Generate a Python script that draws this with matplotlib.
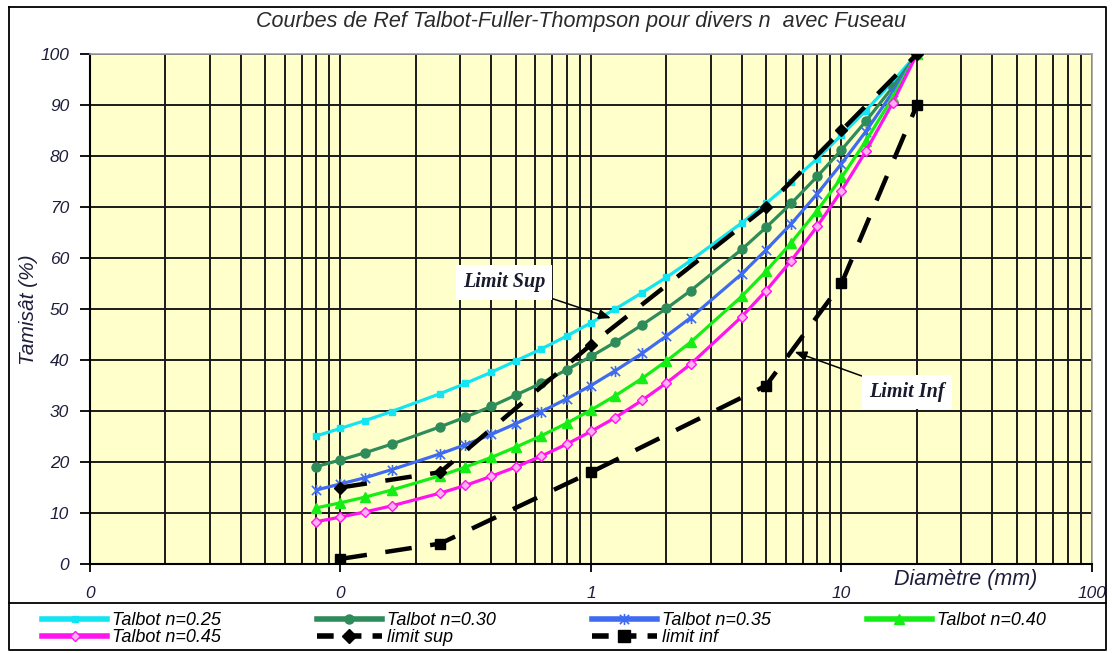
import matplotlib
matplotlib.use("Agg")
import matplotlib.pyplot as plt
import matplotlib.ticker as mticker
from matplotlib.lines import Line2D
from matplotlib.path import Path

# Sieve openings (mm) and passing percentages of the reference curves
diametres = [0.08, 0.1, 0.125, 0.16, 0.25, 0.315, 0.4, 0.5, 0.63, 0.8, 1,
             1.25, 1.6, 2, 2.5, 4, 5, 6.3, 8, 10, 12.5, 16, 20]

talbot_025 = [25.1, 26.6, 28.1, 29.9, 33.4, 35.4, 37.6, 39.8, 42.1, 44.7, 47.3,
              50.0, 53.2, 56.2, 59.5, 66.9, 70.7, 74.9, 79.5, 84.1, 88.9, 94.6, 100]
talbot_030 = [19.1, 20.4, 21.8, 23.5, 26.9, 28.8, 30.9, 33.1, 35.4, 38.1, 40.7,
              43.5, 46.9, 50.1, 53.6, 61.7, 66.0, 70.7, 76.0, 81.2, 86.8, 93.5, 100]
talbot_035 = [14.5, 15.7, 16.9, 18.5, 21.6, 23.4, 25.4, 27.5, 29.8, 32.4, 35.0,
              37.9, 41.3, 44.7, 48.3, 56.9, 61.6, 66.7, 72.6, 78.5, 84.8, 92.5, 100]
talbot_040 = [11.0, 12.0, 13.1, 14.5, 17.3, 19.0, 20.9, 22.9, 25.1, 27.6, 30.2,
              33.0, 36.4, 39.8, 43.5, 52.5, 57.4, 63.0, 69.3, 75.8, 82.9, 91.5, 100]
talbot_045 = [8.3, 9.2, 10.2, 11.4, 13.9, 15.4, 17.2, 19.0, 21.1, 23.5, 26.0,
              28.7, 32.1, 35.5, 39.2, 48.5, 53.6, 59.5, 66.2, 73.2, 80.9, 90.4, 100]

# Grading envelope (fuseau)
fuseau_d = [0.1, 0.25, 1, 5, 10, 20]
limit_sup = [15, 18, 43, 70, 85, 100]
limit_inf = [1, 4, 18, 35, 55, 90]

x_ticks = [0.01, 0.1, 1, 10, 100]
y_ticks = [0, 10, 20, 30, 40, 50, 60, 70, 80, 90, 100]

plt.rcParams["font.family"] = ["Liberation Sans", "DejaVu Sans"]
plt.rcParams["font.style"] = "italic"

W, H = 1112, 653
fig = plt.figure(figsize=(W / 100, H / 100), dpi=100)
fig.patch.set_facecolor("white")

def fx(px):
    return px / W

def fy(py):
    return 1 - py / H

ax = fig.add_axes([fx(90), fy(564), fx(1092) - fx(90), fy(54) - fy(564)])
ax.set_facecolor("#FFFFCC")
ax.set_xscale("log")
ax.set_xlim(0.01, 100)
ax.set_ylim(0, 100)

ax.xaxis.set_major_locator(mticker.FixedLocator(x_ticks))
ax.xaxis.set_major_formatter(mticker.FuncFormatter(lambda v, p: f"{v:.0f}"))
ax.xaxis.set_minor_locator(mticker.LogLocator(base=10, subs=range(2, 10)))
ax.xaxis.set_minor_formatter(mticker.NullFormatter())
ax.yaxis.set_major_locator(mticker.FixedLocator(y_ticks))

ax.set_axisbelow(True)
ax.grid(True, which="both", axis="x", color="#1a1a1a", lw=1.4)
ax.grid(True, which="major", axis="y", color="#1a1a1a", lw=1.4)

ax.tick_params(axis="x", which="major", direction="out", length=6, width=1.3,
               pad=10, labelsize=12.5, labelcolor="#1e1e3c")
ax.tick_params(axis="x", which="minor", length=0)
ax.tick_params(axis="y", which="major", direction="out", length=7, width=1.3,
               pad=8, labelsize=12.5, labelcolor="#1e1e3c")

for side in ("top", "right"):
    ax.spines[side].set_color("#a0a0a0")
    ax.spines[side].set_linewidth(1.2)
for side in ("left", "bottom"):
    ax.spines[side].set_color("black")
    ax.spines[side].set_linewidth(1.5)

# Excel-like "star" marker: an x with a vertical bar
star_path = Path(
    [(-1, -1), (1, 1), (-1, 1), (1, -1), (0, -1.2), (0, 1.2)],
    [Path.MOVETO, Path.LINETO, Path.MOVETO, Path.LINETO, Path.MOVETO, Path.LINETO],
)

styles = [
    (talbot_025, "Talbot n=0.25", dict(color="#12E4F2", marker="s", ms=4.5)),
    (talbot_030, "Talbot n=0.30", dict(color="#2E8B5A", marker="o", ms=6.5)),
    (talbot_035, "Talbot n=0.35", dict(color="#3F6BF0", marker=star_path, ms=8, mew=1.2)),
    (talbot_040, "Talbot n=0.40", dict(color="#14EE14", marker="^", ms=7)),
    (talbot_045, "Talbot n=0.45", dict(color="#FF14F0", marker="D", ms=5,
                                       mfc="#FFB0F0", mew=1.0)),
]

handles = {}
for values, label, st in styles:
    ax.plot(diametres, values, lw=2.3, zorder=3, **st)
    handles[label] = Line2D([], [], lw=4, **st)

dash_kw = dict(color="black", lw=3.2, dashes=(6, 4.2), zorder=4)
ax.plot(fuseau_d, limit_sup, marker="D", ms=6.5, **dash_kw)
ax.plot(fuseau_d, limit_inf, marker="s", ms=7.5, **dash_kw)
handles["limit sup"] = Line2D([], [], color="black", lw=4, dashes=(3, 2),
                              marker="D", ms=7)
handles["limit inf"] = Line2D([], [], color="black", lw=4, dashes=(3, 2),
                              marker="s", ms=8)

box = dict(boxstyle="square,pad=0.35", fc="white", ec="none")
serif = dict(family=["Liberation Serif", "DejaVu Serif"], weight="bold",
             style="italic", size=14.5, color="#1a1a2e")
ax.annotate("Limit Sup", xy=(1.2, 48.2), xytext=(0.45, 55.2),
            ha="center", va="center", bbox=box, zorder=6,
            arrowprops=dict(arrowstyle="-|>,head_length=0.5,head_width=0.2",
                            color="black", lw=1.1, shrinkA=0, shrinkB=0),
            **serif)
ax.annotate("Limit Inf", xy=(6.5, 41.6), xytext=(18.2, 33.7),
            ha="center", va="center", bbox=box, zorder=6,
            arrowprops=dict(arrowstyle="-|>,head_length=0.5,head_width=0.2",
                            color="black", lw=1.1, shrinkA=0, shrinkB=0),
            **serif)

fig.text(fx(581), fy(22), "Courbes de Ref Talbot-Fuller-Thompson pour divers n  avec Fuseau",
         ha="center", va="center", fontsize=15.5, color="#2a2a2a")
fig.text(fx(966), fy(580), "Diamètre (mm)", ha="center", va="center",
         fontsize=15.5, color="#1e1e3c")
fig.text(fx(28), fy(310), "Tamisât (%)", ha="center", va="center",
         rotation=90, fontsize=15, color="#1e1e3c")

# Outer frame and the separator above the legend
frame_kw = dict(color="black", lw=1.3, transform=fig.transFigure)
fig.add_artist(Line2D([fx(9), fx(1106), fx(1106), fx(9), fx(9)],
                      [fy(7), fy(7), fy(650), fy(650), fy(7)], **frame_kw))
fig.add_artist(Line2D([fx(9), fx(1106)], [fy(603), fy(603)], **frame_kw))

order = ["Talbot n=0.25", "Talbot n=0.45", "Talbot n=0.30", "limit sup",
         "Talbot n=0.35", "limit inf", "Talbot n=0.40"]
fig.legend([handles[k] for k in order], order, ncol=4, frameon=False,
           loc="center left", bbox_to_anchor=(fx(42), fy(629)),
           fontsize=13, handlelength=3.6, handletextpad=0.3,
           columnspacing=5.3, labelspacing=0.0, borderaxespad=0,
           borderpad=0)

fig.savefig("out.png", dpi=100, facecolor="white")
